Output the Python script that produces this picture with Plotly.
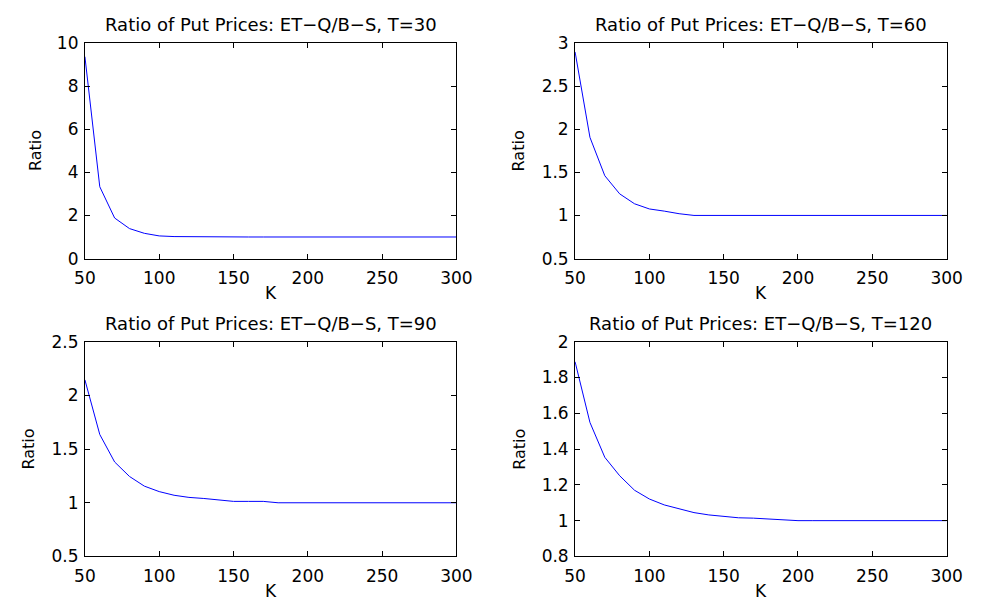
import plotly.graph_objects as go

# Strike prices
K = [50, 60, 70, 80, 90, 100, 110, 120, 130, 140, 150, 160, 170, 180, 190, 200,
     210, 220, 230, 240, 250, 260, 270, 280, 290, 300]

# Ratio of put prices (ET-Q / B-S) for each maturity
ratio_T30 = [9.36, 3.33, 1.88, 1.39, 1.17, 1.05, 1.02, 1.01, 1.0, 1.0, 1.0, 1.0, 1.0,
             1.0, 1.0, 1.0, 1.0, 1.0, 1.0, 1.0, 1.0, 1.0, 1.0, 1.0, 1.0, 1.0]
ratio_T60 = [2.895, 1.905, 1.46, 1.25, 1.135, 1.075, 1.05, 1.02, 1.0, 1.0, 1.0, 1.0, 1.0,
             1.0, 1.0, 1.0, 1.0, 1.0, 1.0, 1.0, 1.0, 1.0, 1.0, 1.0, 1.0, 1.0]
ratio_T90 = [2.145, 1.636, 1.38, 1.245, 1.155, 1.104, 1.07, 1.05, 1.04, 1.025, 1.013,
             1.013, 1.013, 1.0, 1.0, 1.0, 1.0, 1.0, 1.0, 1.0, 1.0, 1.0, 1.0, 1.0, 1.0, 1.0]
ratio_T120 = [1.888, 1.549, 1.354, 1.251, 1.17, 1.121, 1.088, 1.067, 1.045, 1.032, 1.023,
              1.016, 1.014, 1.009, 1.007, 1.0, 1.0, 1.0, 1.0, 1.0, 1.0, 1.0, 1.0, 1.0, 1.0, 1.0]

maturities = [30, 60, 90, 120]
series = [ratio_T30, ratio_T60, ratio_T90, ratio_T120]
y_ranges = [[0, 10], [0.5, 3], [0.5, 2.5], [0.8, 2]]
y_ticks = [[0, 2, 4, 6, 8, 10], [0.5, 1, 1.5, 2, 2.5, 3],
           [0.5, 1, 1.5, 2, 2.5], [0.8, 1, 1.2, 1.4, 1.6, 1.8, 2]]
x_ticks = [50, 100, 150, 200, 250, 300]

W, H = 984, 609
# panel boxes in pixels: (left, right, top, bottom)
boxes = [(76, 458, 34, 257), (580, 962, 34, 257),
         (76, 458, 343, 565), (580, 962, 343, 565)]
ylabel_x = [25, 522, 18, 522]

FONT = "DejaVu Sans"
fig = go.Figure()
annotations = []

for i, (T, vals, yr, yt, box) in enumerate(zip(maturities, series, y_ranges, y_ticks, boxes)):
    n = "" if i == 0 else str(i + 1)
    l, r, t, b = box
    fig.add_trace(go.Scatter(x=K, y=vals, mode="lines",
                             line=dict(color="#0000ff", width=1),
                             xaxis="x" + n, yaxis="y" + n, showlegend=False))
    axis_common = dict(showline=True, linecolor="black", linewidth=1, mirror="ticks",
                       ticks="inside", ticklen=5, tickcolor="black", showgrid=False,
                       zeroline=False, tickfont=dict(family=FONT, size=17, color="black"))
    fig.layout["xaxis" + n] = dict(axis_common, domain=[l / W, r / W], range=[50, 300],
                                   tickvals=x_ticks, anchor="y" + n, ticklabelstandoff=4)
    fig.layout["yaxis" + n] = dict(axis_common, domain=[1 - b / H, 1 - t / H], range=yr,
                                   tickvals=yt, anchor="x" + n, ticklabelstandoff=2)
    annotations.append(dict(text=f"Ratio of Put Prices: ET\u2212Q/B\u2212S, T={T}",
                            x=(l + r) / 2 / W, y=1 - (t - 19) / H, xref="paper", yref="paper",
                            xanchor="center", yanchor="middle", showarrow=False,
                            font=dict(family=FONT, size=18, color="black")))
    annotations.append(dict(text="K", x=(l + r) / 2 / W, y=1 - (b + 36) / H,
                            xref="paper", yref="paper", xanchor="center", yanchor="middle",
                            showarrow=False, font=dict(family=FONT, size=17, color="black")))
    annotations.append(dict(text="Ratio", x=ylabel_x[i] / W,
                            y=1 - (t + b) / 2 / H, xref="paper", yref="paper",
                            xanchor="center", yanchor="middle", textangle=-90, showarrow=False,
                            font=dict(family=FONT, size=16, color="black")))

fig.update_layout(width=W, height=H, margin=dict(l=0, r=0, t=0, b=0),
                  paper_bgcolor="white", plot_bgcolor="white", annotations=annotations)
fig.write_html("out.html")
